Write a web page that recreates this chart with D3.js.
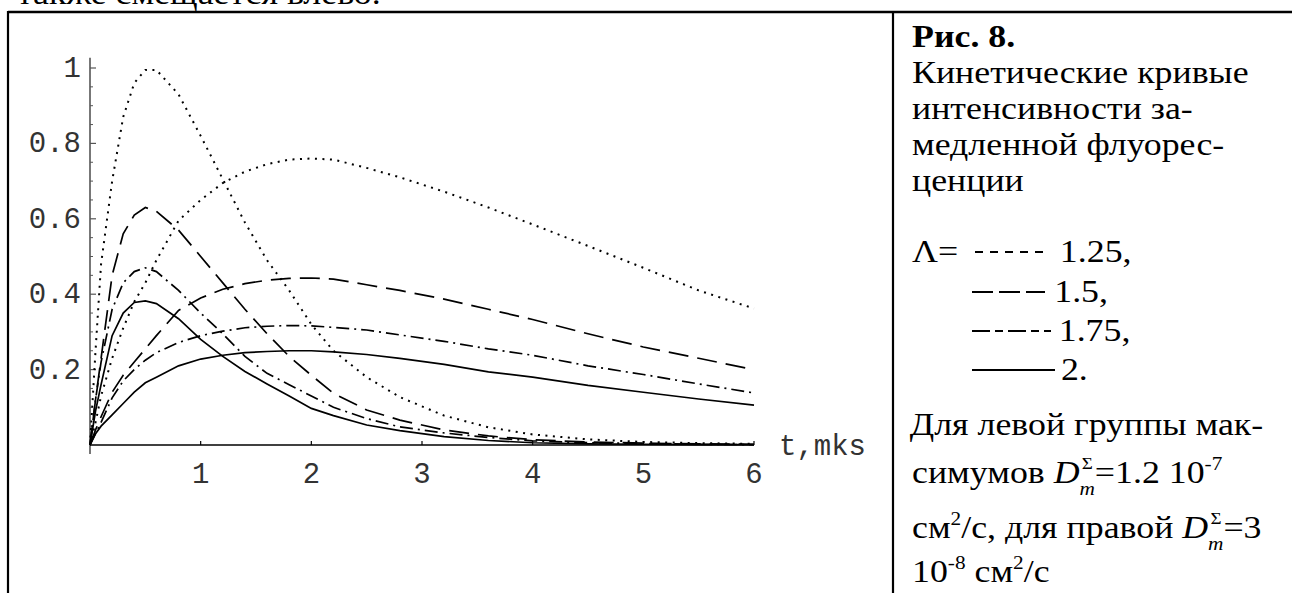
<!DOCTYPE html>
<html><head><meta charset="utf-8">
<script src="https://cdn.jsdelivr.net/npm/d3@7"></script>
<style>
html,body{margin:0;padding:0;background:#fff;}
svg{display:block;}
</style></head>
<body>
<script>
// ---- data ----
const tGrid = [0,0.05,0.1,0.2,0.3,0.4,0.5,0.6,0.8,1.0,1.2,1.4,1.6,1.8,2.0,2.2,2.5,2.8,3.2,3.6,4.0,4.5,5.0,5.5,6.0];
// left group (faster, D = 1.2e-7)
const fast125 = [0,0.25,0.48,0.70,0.87,0.96,0.995,0.995,0.93,0.82,0.705,0.59,0.49,0.41,0.32,0.25,0.18,0.127,0.078,0.047,0.028,0.015,0.008,0.005,0.003];
const fast150 = [0,0.12,0.23,0.45,0.56,0.61,0.63,0.62,0.57,0.50,0.43,0.36,0.295,0.235,0.185,0.137,0.093,0.066,0.04,0.024,0.014,0.008,0.005,0.003,0.002];
const fast175 = [0,0.12,0.22,0.36,0.43,0.46,0.47,0.46,0.41,0.35,0.295,0.235,0.19,0.16,0.13,0.10,0.07,0.048,0.032,0.02,0.011,0.006,0.004,0.002,0.001];
const fast200 = [0,0.09,0.16,0.29,0.35,0.378,0.382,0.375,0.335,0.28,0.235,0.195,0.162,0.13,0.097,0.078,0.053,0.038,0.022,0.012,0.006,0.003,0.002,0.001,0.001];
// right group (slower, D = 3e-8)
const slow125 = [0,0.06,0.13,0.23,0.31,0.38,0.43,0.49,0.595,0.65,0.695,0.725,0.745,0.757,0.76,0.757,0.735,0.71,0.672,0.63,0.585,0.528,0.47,0.41,0.362];
const slow150 = [0,0.04,0.075,0.14,0.185,0.22,0.255,0.29,0.357,0.39,0.413,0.428,0.437,0.442,0.443,0.44,0.425,0.41,0.387,0.36,0.333,0.295,0.26,0.23,0.2];
const slow175 = [0,0.03,0.06,0.125,0.17,0.2,0.225,0.245,0.272,0.29,0.302,0.311,0.315,0.317,0.316,0.312,0.305,0.292,0.275,0.255,0.238,0.21,0.187,0.162,0.138];
const slow200 = [0,0.03,0.05,0.08,0.11,0.14,0.165,0.18,0.21,0.228,0.238,0.245,0.248,0.25,0.25,0.247,0.24,0.23,0.214,0.194,0.18,0.158,0.14,0.122,0.106];
const lambdas = ["1.25","1.5","1.75","2"];
const legendLabels = ["1.25,","1.5,","1.75,","2."];
const xTicks = [1,2,3,4,5,6];
const yTicks = [0.2,0.4,0.6,0.8,1];
const yTickLabels = ["0.2","0.4","0.6","0.8","1"];
const xLabel = "t,mks";

const series = [
  {lam:"1.25", vals:fast125}, {lam:"1.5", vals:fast150}, {lam:"1.75", vals:fast175}, {lam:"2", vals:fast200},
  {lam:"1.25", vals:slow125}, {lam:"1.5", vals:slow150}, {lam:"1.75", vals:slow175}, {lam:"2", vals:slow200}
];
const dashFor = {"1.25":"2,5.5", "1.5":"20,9", "1.75":"13,5,2,5", "2":null};
// how the caption typesets each style (typed dashes)
const legendDash = {"1.25":"8,7", "1.5":"21,6", "1.75":"18,5,8,5", "2":null};

// ---- layout ----
const W = 1292, H = 593;
const svg = d3.select("body").append("svg").attr("width",W).attr("height",H);
svg.append("rect").attr("width",W).attr("height",H).attr("fill","#fff");

const x = d3.scaleLinear().domain([0,6]).range([90,754]);
const y = d3.scaleLinear().domain([0,1]).range([445,68]);

// frame
svg.append("line").attr("x1",8).attr("x2",W).attr("y1",12).attr("y2",12).attr("stroke","#000").attr("stroke-width",2.4);
svg.append("line").attr("x1",8).attr("x2",8).attr("y1",11).attr("y2",H).attr("stroke","#000").attr("stroke-width",2.2);
svg.append("line").attr("x1",893).attr("x2",893).attr("y1",11).attr("y2",H).attr("stroke","#000").attr("stroke-width",2.2);

// top cut text (continuation of the page above)
svg.append("text").attr("x",17).attr("y",4).attr("font-family","Liberation Serif").attr("font-size",32)
  .attr("transform","translate(17,0) scale(1.12,1) translate(-17,0)")
  .text("также смещается влево.");

// axes
const mono = "Liberation Mono";
const g = svg.append("g");
g.append("line").attr("x1",90).attr("x2",90).attr("y1",y(1.027)).attr("y2",y(-0.024)).attr("stroke","#777").attr("stroke-width",2);
const yMinor = d3.range(1,21).map(i=>i*0.05).filter(v=>Math.abs(v*5-Math.round(v*5))>1e-6);
g.selectAll(".ymin").data(yMinor).join("line").attr("x1",90).attr("x2",93).attr("y1",d=>y(d)).attr("y2",d=>y(d)).attr("stroke","#555").attr("stroke-width",1);
g.selectAll(".ymaj").data(yTicks).join("line").attr("x1",90).attr("x2",96).attr("y1",d=>y(d)).attr("y2",d=>y(d)).attr("stroke","#555").attr("stroke-width",1.2);
g.selectAll(".ylab").data(yTicks).join("text").attr("x",81).attr("y",d=>y(d)+9).attr("text-anchor","end")
  .attr("font-family",mono).attr("font-size",29).attr("fill","#333").text((d,i)=>yTickLabels[i]);
g.append("line").attr("x1",90).attr("x2",x(6)).attr("y1",y(0)).attr("y2",y(0)).attr("stroke","#000").attr("stroke-width",1.6);
g.selectAll(".xmaj").data(xTicks).join("line").attr("x1",d=>x(d)).attr("x2",d=>x(d)).attr("y1",y(0)).attr("y2",y(0)-4).attr("stroke","#000").attr("stroke-width",1.2);
g.selectAll(".xlab").data(xTicks).join("text").attr("x",d=>x(d)).attr("y",483).attr("text-anchor","middle")
  .attr("font-family",mono).attr("font-size",29).attr("fill","#333").text(d=>d);
g.append("text").attr("x",779).attr("y",455).attr("font-family",mono).attr("font-size",29).attr("fill","#333").text(xLabel);

// curves
const line = d3.line().x((d,i)=>x(tGrid[i])).y(d=>y(d)).curve(d3.curveLinear);
svg.append("g").selectAll("path").data(series).join("path")
  .attr("d",d=>line(d.vals)).attr("fill","none").attr("stroke","#000")
  .attr("stroke-width",d=>d.lam==="1.25"?2:1.7)
  .attr("stroke-dasharray",d=>dashFor[d.lam]);

// right caption (scaled horizontally like the scanned page)
const serif = "Liberation Serif";
const cap = svg.append("g").attr("font-family",serif).attr("font-size",32).attr("fill","#000")
  .attr("transform","translate(912,0) scale(1.12,1)");
const capLines = [
  {y:47, t:"Рис. 8.", w:"bold"},
  {y:83, t:"Кинетические кривые"},
  {y:119, t:"интенсивности за-"},
  {y:155, t:"медленной флуорес-"},
  {y:191, t:"ценции"}
];
capLines.forEach(l=>cap.append("text").attr("x",0).attr("y",l.y).attr("font-weight",l.w||"normal").text(l.t));
const legY = [262,302,341,380];
const sampleX0 = [975,972,972,972], sampleX1 = [1048,1045,1051,1055];
const labX = [132,127,131,133];
cap.append("text").attr("x",0).attr("y",legY[0]).text("Λ=");
lambdas.forEach((lam,i)=>{
  svg.append("line").attr("x1",sampleX0[i]).attr("x2",sampleX1[i]).attr("y1",legY[i]-10).attr("y2",legY[i]-10)
    .attr("stroke","#000").attr("stroke-width",2).attr("stroke-dasharray",legendDash[lam]);
  cap.append("text").attr("x",labX[i]).attr("y",legY[i]).text(legendLabels[i]);
});
cap.append("text").attr("x",-2).attr("y",435).text("Для левой группы мак-");
let t1 = cap.append("text").attr("x",0).attr("y",483);
t1.append("tspan").text("симумов ");
t1.append("tspan").attr("font-style","italic").text("D");
t1.append("tspan").attr("font-size",17).attr("dy",-14).attr("dx",2).text("Σ");
t1.append("tspan").attr("font-size",19).attr("font-style","italic").attr("dy",26).attr("dx",-12).text("m");
t1.append("tspan").attr("dy",-12).text("=1.2 10");
t1.append("tspan").attr("font-size",19).attr("dy",-13).text("-7");
let t2 = cap.append("text").attr("x",0).attr("y",538);
t2.append("tspan").text("см");
t2.append("tspan").attr("font-size",19).attr("dy",-13).text("2");
t2.append("tspan").attr("dy",13).text("/с, для правой ");
t2.append("tspan").attr("font-style","italic").text("D");
t2.append("tspan").attr("font-size",17).attr("dy",-14).attr("dx",2).text("Σ");
t2.append("tspan").attr("font-size",19).attr("font-style","italic").attr("dy",26).attr("dx",-12).text("m");
t2.append("tspan").attr("dy",-12).text("=3");
let t3 = cap.append("text").attr("x",0).attr("y",582);
t3.append("tspan").text("10");
t3.append("tspan").attr("font-size",19).attr("dy",-13).text("-8");
t3.append("tspan").attr("dy",13).text(" см");
t3.append("tspan").attr("font-size",19).attr("dy",-13).text("2");
t3.append("tspan").attr("dy",13).text("/с");
</script>
</body></html>
